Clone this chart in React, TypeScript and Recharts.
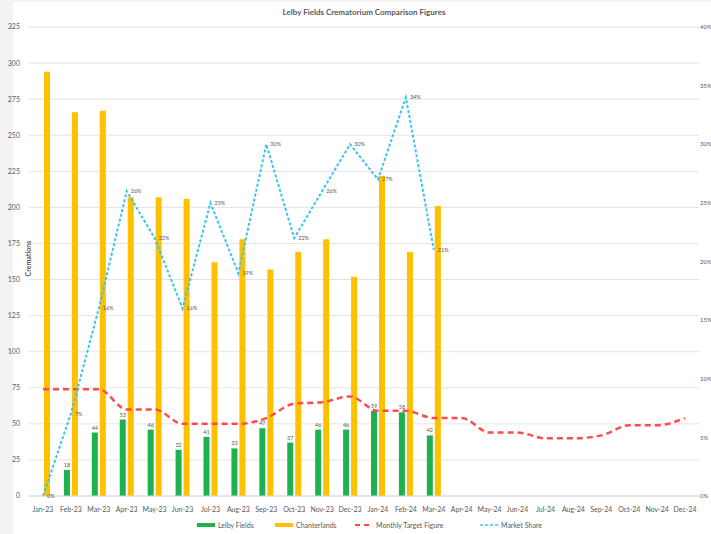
import React from "react";
import {
    ComposedChart,
    Bar,
    Line,
    XAxis,
    YAxis,
    CartesianGrid,
    Legend,
    LabelList,
} from "recharts";

const months = [
    "Jan-23", "Feb-23", "Mar-23", "Apr-23", "May-23", "Jun-23",
    "Jul-23", "Aug-23", "Sep-23", "Oct-23", "Nov-23", "Dec-23",
    "Jan-24", "Feb-24", "Mar-24", "Apr-24", "May-24", "Jun-24",
    "Jul-24", "Aug-24", "Sep-24", "Oct-24", "Nov-24", "Dec-24",
];
const lelbyFields = [0, 18, 44, 53, 46, 32, 41, 33, 47, 37, 46, 46, 59, 58, 42];
const chanterlands = [294, 266, 267, 207, 207, 206, 162, 178, 157, 169, 178, 152, 222, 169, 201];
const monthlyTarget = [74, 74, 74, 60, 60, 50, 50, 50, 54, 64, 65, 69, 59, 59, 54, 54, 44, 44, 40, 40, 42, 49, 49, 54];
const marketShare = [0, 7, 16, 26, 22, 16, 25, 19, 30, 22, 26, 30, 27, 34, 21];

const leftTicks = [0, 25, 50, 75, 100, 125, 150, 175, 200, 225, 250, 275, 300, 325];
const rightTicks = [0, 5, 10, 15, 20, 25, 30, 35, 40];

const data = months.map((m, i) => ({
    month: m,
    lelby: i < lelbyFields.length ? lelbyFields[i] : null,
    chanter: i < chanterlands.length ? chanterlands[i] : null,
    target: monthlyTarget[i],
    share: i < marketShare.length ? marketShare[i] : null,
}));

const FONT = "Lato, 'Open Sans', sans-serif";
const GREEN = "#1db24f";
const ORANGE = "#ffc000";
const RED = "#ff4b4b";
const BLUE = "#3cc3f2";

const ShareLabel = (props: any) => {
    const { x, y, value } = props;
    if (value === null || value === undefined) return null;
    return (
        <text x={x + 4} y={y + 2} fontSize={5.5} fill="#595959" fontFamily={FONT}>
            {value}%
        </text>
    );
};

const AxisTitle = (props: any) => {
    const { viewBox } = props;
    const x = viewBox.x + viewBox.width + 2;
    const y = viewBox.y + viewBox.height / 2 - 3;
    return (
        <text
            x={x}
            y={y}
            transform={`rotate(-90 ${x} ${y})`}
            textAnchor="middle"
            fontSize={7}
            fontWeight="bold"
            fill="#595959"
            fontFamily={FONT}
        >
            Cremations
        </text>
    );
};

// slot widths roughly follow the Excel legend spacing
const legendItems = [
    { name: "Lelby Fields", color: GREEN, kind: "bar", w: 78 },
    { name: "Chanterlands", color: ORANGE, kind: "bar", w: 80 },
    { name: "Monthly Target Figure", color: RED, kind: "dash", w: 125 },
    { name: "Market Share", color: BLUE, kind: "dot", w: 70 },
];

const LegendContent = () => (
    <div
        style={{
            display: "flex",
            paddingLeft: 197,
            paddingTop: 7,
            fontFamily: FONT,
            fontSize: 7,
            color: "#595959",
        }}
    >
        {legendItems.map((it) => (
            <div
                key={it.name}
                style={{ display: "flex", alignItems: "center", width: it.w }}
            >
                <svg width={18} height={6} style={{ marginRight: 3 }}>
                    {it.kind === "bar" ? (
                        <rect x={0} y={1} width={18} height={4} fill={it.color} />
                    ) : (
                        <line
                            x1={0}
                            y1={3}
                            x2={18}
                            y2={3}
                            stroke={it.color}
                            strokeWidth={it.kind === "dash" ? 2 : 1.5}
                            strokeDasharray={it.kind === "dash" ? "5 4" : "3 2"}
                        />
                    )}
                </svg>
                <span>{it.name}</span>
            </div>
        ))}
    </div>
);

export default function App() {
    return (
        <div
            style={{
                position: "absolute",
                left: 0,
                top: 0,
                width: 711,
                height: 534,
                background: "#f3f3f3",
                overflow: "hidden",
            }}
        >
            <div
                style={{
                    position: "absolute",
                    left: 13,
                    top: 2,
                    width: 698,
                    height: 532,
                    background: "#ffffff",
                }}
            />
            <div
                style={{
                    position: "absolute",
                    left: 29,
                    width: 670,
                    top: 7,
                    textAlign: "center",
                    fontFamily: FONT,
                    fontSize: 8,
                    fontWeight: "bold",
                    color: "#595959",
                }}
            >
                Lelby Fields Crematorium Comparison Figures
            </div>
            <div style={{ position: "absolute", left: 0, top: 0 }}>
                <ComposedChart
                    width={711}
                    height={534}
                    data={data}
                    margin={{ top: 27, right: 0, bottom: 0, left: 0 }}
                    barGap={2}
                    style={{ fontFamily: FONT }}
                >
                    <CartesianGrid yAxisId="left" vertical={false} stroke="#e4e4e4" />
                    <XAxis
                        dataKey="month"
                        height={18}
                        interval={0}
                        tick={{ fontSize: 7, fill: "#595959" }}
                        tickLine={false}
                        axisLine={{ stroke: "#d9d9d9" }}
                        tickMargin={5}
                    />
                    <YAxis
                        yAxisId="left"
                        width={29}
                        domain={[0, 325]}
                        ticks={leftTicks}
                        interval={0}
                        tick={{ fontSize: 7, fill: "#595959" }}
                        tickLine={false}
                        axisLine={false}
                        tickSize={4}
                        tickMargin={5}
                        label={<AxisTitle />}
                    />
                    <YAxis
                        yAxisId="right"
                        orientation="right"
                        width={12}
                        domain={[0, 40]}
                        ticks={rightTicks}
                        interval={0}
                        tickFormatter={(v) => `${v}%`}
                        tick={{ fontSize: 6, fill: "#595959" }}
                        tickLine={false}
                        axisLine={false}
                        tickSize={0}
                        tickMargin={1}
                    />
                    <Legend
                        verticalAlign="bottom"
                        height={20}
                        content={<LegendContent />}
                        wrapperStyle={{ left: 0, width: 711 }}
                    />
                    <Bar
                        yAxisId="left"
                        dataKey="lelby"
                        name="Lelby Fields"
                        fill={GREEN}
                        barSize={6}
                        isAnimationActive={false}
                    >
                        <LabelList
                            dataKey="lelby"
                            position="top"
                            offset={3}
                            style={{ fontSize: 5.5, fill: "#595959" }}
                        />
                    </Bar>
                    <Bar
                        yAxisId="left"
                        dataKey="chanter"
                        name="Chanterlands"
                        fill={ORANGE}
                        barSize={6}
                        isAnimationActive={false}
                    />
                    <Line
                        yAxisId="left"
                        type="monotone"
                        dataKey="target"
                        name="Monthly Target Figure"
                        stroke={RED}
                        strokeWidth={2.5}
                        strokeDasharray="6 4"
                        dot={false}
                        isAnimationActive={false}
                    />
                    <Line
                        yAxisId="right"
                        type="linear"
                        dataKey="share"
                        name="Market Share"
                        stroke={BLUE}
                        strokeWidth={2}
                        strokeDasharray="3 2"
                        dot={false}
                        isAnimationActive={false}
                    >
                        <LabelList dataKey="share" content={<ShareLabel />} />
                    </Line>
                </ComposedChart>
            </div>
        </div>
    );
}
